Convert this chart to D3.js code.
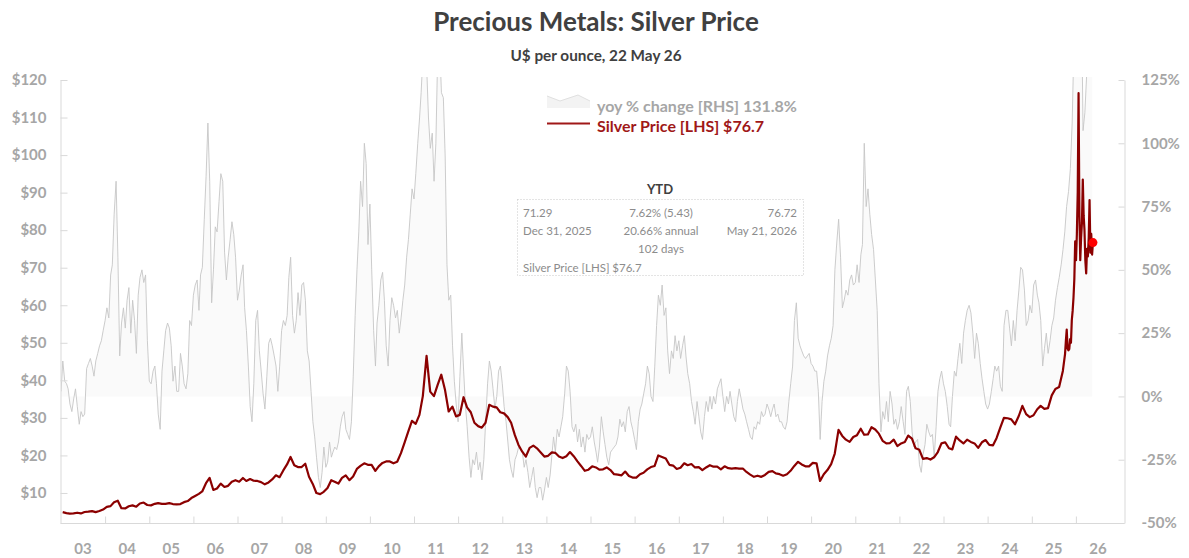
<!DOCTYPE html>
<html><head><meta charset="utf-8">
<script src="https://cdn.jsdelivr.net/npm/d3@7"></script>
<style>
html,body{margin:0;padding:0;background:#fff;}
svg{display:block;font-family:Lato,"Open Sans",sans-serif;}
</style></head><body>
<svg id="chart" width="1189" height="558"></svg>
<script>
// ---------- DATA ----------
const years = d3.range(2003, 2027);
const yearLabels = years.map(y => String(y % 100).padStart(2, "0"));
const leftTicks = [10, 20, 30, 40, 50, 60, 70, 80, 90, 100, 110, 120];
const rightTicks = [-50, -25, 0, 25, 50, 75, 100, 125];

// Silver price, monthly, Jan 2003 - Sep 2025 (US$/oz)
const priceMonthly = [
  4.88,4.62,4.48,4.55,4.74,4.55,4.93,5.02,5.16,4.90,5.18,5.57,
  6.30,6.50,7.55,7.95,5.95,5.87,6.45,6.70,6.35,7.20,7.45,6.80,
  6.70,7.10,7.30,7.10,7.10,7.30,7.05,6.95,7.05,7.55,7.85,8.65,
  9.20,9.75,10.40,12.60,14.00,10.80,11.20,12.50,11.60,11.90,13.00,13.40,
  13.00,14.00,13.20,13.70,13.25,13.20,12.90,12.30,12.80,13.60,14.70,14.20,
  16.00,17.60,19.60,17.40,16.90,16.90,17.80,14.30,12.40,10.00,9.70,10.30,
  11.30,13.40,13.00,12.50,14.00,14.70,13.40,14.40,16.40,17.20,17.90,17.50,
  17.50,15.90,17.10,18.00,18.40,18.40,17.90,18.30,20.60,23.40,26.40,29.20,
  28.40,30.80,35.80,46.50,37.00,35.80,38.70,41.50,37.40,31.70,33.00,30.40,
  30.80,35.50,32.80,31.50,28.70,27.80,27.40,28.70,33.50,33.00,32.80,31.50,
  31.20,30.20,28.70,25.40,22.80,21.00,19.70,22.00,22.60,21.90,20.80,19.70,
  19.90,20.80,20.70,19.70,19.30,19.80,20.90,19.80,18.40,17.20,15.90,16.20,
  17.10,16.80,16.20,16.30,16.80,16.10,15.00,14.90,14.70,15.70,14.50,14.10,
  14.10,15.00,15.40,16.30,16.90,17.20,20.00,19.60,19.20,17.50,17.30,16.40,
  16.70,17.90,17.40,17.70,16.80,16.90,16.10,16.80,17.40,17.00,17.00,16.30,
  17.10,16.60,16.50,16.60,16.50,16.50,15.60,14.90,14.30,14.60,14.30,14.80,
  15.60,15.80,15.20,15.00,14.60,15.00,15.90,17.20,18.30,17.60,17.10,17.10,
  18.00,17.90,13.20,15.00,16.10,17.70,20.50,26.80,25.20,24.20,23.60,24.90,
  25.40,27.10,25.50,25.60,27.50,26.90,25.80,23.90,23.20,23.30,24.20,22.50,
  23.20,23.60,25.30,24.50,21.90,21.50,19.10,19.30,18.90,19.50,20.90,23.20,
  23.50,21.90,21.60,25.00,24.00,23.20,24.20,23.60,23.20,22.00,23.50,24.10,
  22.80,22.70,24.60,27.40,30.00,29.90,29.60,28.30,30.50,33.20,31.00,30.20,
  30.70,32.30,33.20,32.40,32.60,36.00,37.70,38.20,42.50
];
// Silver price, weekly, from 3 Oct 2025 to 22 May 2026
const priceWeeklyStart = "2025-10-03";
const priceWeekly = [
  47.0,50.5,53.5,48.5,48.0,48.3,51.0,50.0,56.0,58.5,62.0,67.0,77.0,
  72.0,79.0,90.0,116.5,84.0,72.0,78.0,82.0,93.5,84.0,80.0,72.0,68.5,
  75.0,73.0,78.0,88.0,74.0,79.0,73.5,76.7
];
// yoy % change, twice a month (1st & 16th), Jan 2003 - May 2026
const yoySemiMonthly = [
  2,14,6,5,3,-3,-6,-1,3,-4,-11,-6,-8,-7,11,13,15,12,8,14,17,20,22,26,
  30,35,31,48,52,72,85,55,16,29,35,27,38,43,25,38,30,17,40,47,50,45,48,22,
  6,5,10,12,5,-7,-13,10,18,26,29,27,20,6,12,2,2,17,12,5,3,9,30,28,
  40,44,46,34,48,51,70,87,108,85,37,50,67,65,77,88,85,57,46,55,62,69,64,55,
  38,42,48,52,35,26,12,-4,-10,5,30,34,18,10,1,-5,8,21,23,20,16,12,2,12,
  26,30,28,32,47,55,32,25,30,41,32,44,45,38,18,14,2,-10,-16,-24,-32,-36,-30,-20,
  -28,-26,-18,-24,-22,-20,-21,-18,-12,-8,-6,-13,-15,-17,-10,8,32,50,65,85,75,100,92,60,
  76,50,26,12,29,36,46,49,38,20,12,30,39,36,31,34,25,31,38,44,55,62,72,82,
  78,88,100,110,120,135,140,130,110,98,104,85,100,135,140,120,118,95,52,38,40,20,6,-3,
  -10,8,25,10,-3,-12,-24,-32,-25,-27,-22,-29,-26,-33,-25,-10,5,14,10,3,-5,0,10,12,
  5,-4,-10,-18,-25,-29,-32,-25,-23,-20,-21,-22,-28,-25,-30,-36,-32,-28,-36,-40,-36,-36,-41,-37,
  -32,-36,-31,-23,-16,-22,-13,-16,-12,-8,1,12,10,2,-12,-14,-11,-18,-13,-20,-16,-22,-15,-17,
  -16,-12,-18,-22,-26,-20,-8,-14,-19,-24,-27,-22,-21,-20,-19,-16,-9,-12,-10,-14,-6,-4,-10,-13,
  -17,-21,-10,-5,-3,1,5,12,9,0,-2,12,28,40,36,44,32,35,18,9,18,15,24,18,
  22,15,20,24,16,9,5,-2,-6,-11,-2,-8,-14,-17,-8,-2,-6,0,-5,0,-3,3,5,7,
  0,-6,0,-3,2,-3,-8,-10,-2,3,-1,-5,-7,-10,-13,-16,-17,-12,-13,-10,-11,-6,-8,-7,
  -3,-5,-8,-5,-3,-8,-7,-10,-10,-12,-13,-10,-2,5,12,30,37,23,20,18,16,15,16,17,
  13,12,10,10,2,-17,-2,6,10,16,20,23,28,50,61,70,55,35,38,42,40,46,48,44,
  45,52,45,56,60,100,75,82,72,64,58,46,34,5,-14,-6,-9,-2,-10,2,-3,-11,-9,-13,
  -10,-4,-10,-15,2,4,-2,-14,-20,-18,-17,-27,-30,-23,-19,-11,-14,-16,-15,-24,-12,2,7,10,
  5,2,-4,-11,-12,0,10,8,15,21,13,25,30,34,36,33,25,15,25,21,13,7,2,-3,
  -5,-3,2,7,12,10,12,4,2,28,34,34,27,20,30,22,34,42,51,50,42,28,30,36,
  33,44,46,40,37,30,12,19,25,17,22,28,31,38,43,47,52,58,65,75,81,90,108,140,
  170,220,200,160,105,112,128,140,145,131.8
];

const legendItems = ["yoy % change [RHS] 131.8%", "Silver Price [LHS] $76.7"];
const ytdTitle = "YTD";
const ytdRow1 = ["71.29", "7.62% (5.43)", "76.72"];
const ytdRow2 = ["Dec 31, 2025", "20.66% annual", "May 21, 2026"];
const ytdRow3 = "102 days";
const ytdRow4 = "Silver Price [LHS] $76.7";

// ---------- BUILD ----------
const priceData = priceMonthly.map((v, j) => ({ date: new Date(2003, j, 15), v }))
  .concat(priceWeekly.map((v, i) => ({ date: d3.timeDay.offset(new Date(priceWeeklyStart + "T00:00:00"), 7 * i), v })));
const yoyData = yoySemiMonthly.map((v, i) => ({ date: new Date(2003, Math.floor(i / 2), i % 2 ? 16 : 1), v }));

const svg = d3.select("#chart");
const plot = { left: 61, right: 1124, top: 80, bottom: 523 };

const x = d3.scaleTime().domain([new Date(2003, 0, 1), new Date(2027, 0, 1)]).range([61, 1120]);
const yL = d3.scaleLinear().domain([2, 120]).range([plot.bottom, plot.top]);
const yR = d3.scaleLinear().domain([-50, 125]).range([plot.bottom, plot.top]);

const axisColor = "#d9d9d9";
const labelColor = "#a6a6a6";

svg.append("defs").append("clipPath").attr("id", "clip")
  .append("rect").attr("x", plot.left).attr("y", plot.top - 3)
  .attr("width", plot.right - plot.left).attr("height", plot.bottom - plot.top + 3);

// Title
svg.append("text").attr("x", 596).attr("y", 31).attr("text-anchor", "middle")
  .attr("font-size", 26).attr("font-weight", 700).attr("fill", "#404040")
  .text("Precious Metals: Silver Price");
svg.append("text").attr("x", 596).attr("y", 61).attr("text-anchor", "middle")
  .attr("font-size", 15.3).attr("font-weight", 700).attr("fill", "#404040")
  .text("U$ per ounce, 22 May 26");

// yoy area + line
const g = svg.append("g").attr("clip-path", "url(#clip)");
g.append("path").datum(yoyData)
  .attr("d", d3.area().x(d => x(d.date)).y0(yR(0)).y1(d => yR(d.v)))
  .attr("fill", "#fafafa");
g.append("path").datum(yoyData)
  .attr("d", d3.line().x(d => x(d.date)).y(d => yR(d.v)))
  .attr("fill", "none").attr("stroke", "#c6c6c6").attr("stroke-width", 0.9);

// price line
g.append("path").datum(priceData)
  .attr("d", d3.line().x(d => x(d.date)).y(d => yL(d.v)))
  .attr("fill", "none").attr("stroke", "#8b0000").attr("stroke-width", 2.2)
  .attr("stroke-linejoin", "round");

// Axes
const axL = svg.append("g").attr("transform", `translate(60.5,0)`)
  .call(d3.axisLeft(yL).tickValues(leftTicks).tickFormat(d => "$" + d)
    .tickSizeInner(-7).tickSizeOuter(0).tickPadding(14));
const axR = svg.append("g").attr("transform", `translate(${plot.right + 0.5},0)`)
  .call(d3.axisRight(yR).tickValues(rightTicks).tickFormat(d => d + "%")
    .tickSizeInner(-6).tickSizeOuter(0).tickPadding(17));
const axB = svg.append("g").attr("transform", `translate(0,${plot.bottom + 0.5})`)
  .call(d3.axisBottom(x).tickValues(years.slice(1).map(y => new Date(y, 0, 1))).tickFormat("")
    .tickSizeInner(-7).tickSizeOuter(0));
axB.select(".domain").attr("d", `M60.5,0H${plot.right + 0.5}`);
[axL, axR, axB].forEach(a => {
  a.select(".domain").attr("stroke", axisColor);
  a.selectAll(".tick line").attr("stroke", axisColor);
  a.selectAll("text").attr("fill", labelColor).attr("font-size", 15).attr("font-weight", 700)
    .attr("font-family", "Lato, 'Open Sans', sans-serif");
});
svg.append("g").selectAll("text").data(years).join("text")
  .attr("x", d => x(new Date(d, 6, 2))).attr("y", 554)
  .attr("text-anchor", "middle").attr("font-size", 15).attr("font-weight", 700)
  .attr("fill", labelColor).text((d, i) => yearLabels[i]);

// end dot
const last = priceData[priceData.length - 1];
svg.append("circle").attr("cx", x(last.date)).attr("cy", yL(last.v)).attr("r", 4.5).attr("fill", "#ff0000");

// Legend
svg.append("path")
  .attr("d", "M547,108 L547,96 L560,101 L578,95 L590,101 L590,108 Z")
  .attr("fill", "#f3f3f3");
svg.append("path").attr("d", "M547,96 L560,101 L578,95 L590,101")
  .attr("fill", "none").attr("stroke", "#e0e0e0").attr("stroke-width", 1);
svg.append("line").attr("x1", 547).attr("x2", 590).attr("y1", 123.5).attr("y2", 123.5)
  .attr("stroke", "#a01818").attr("stroke-width", 2);
svg.append("text").attr("x", 597).attr("y", 112).attr("font-size", 16).attr("font-weight", 700)
  .attr("fill", "#a6a6a6").text(legendItems[0]);
svg.append("text").attr("x", 597).attr("y", 132).attr("font-size", 16).attr("font-weight", 700)
  .attr("fill", "#a01818").text(legendItems[1]);

// YTD box
svg.append("text").attr("x", 660).attr("y", 194).attr("text-anchor", "middle")
  .attr("font-size", 13).attr("font-weight", 700).attr("fill", "#404040").text(ytdTitle);
svg.append("rect").attr("x", 517.5).attr("y", 199.5).attr("width", 286).attr("height", 76)
  .attr("fill", "none").attr("stroke", "#c8c8c8").attr("stroke-dasharray", "1,2");
const ytdG = svg.append("g").attr("font-size", 11.5).attr("fill", "#8c8c8c");
const colX = [523, 661, 797], anchors = ["start", "middle", "end"];
ytdRow1.forEach((t, i) => ytdG.append("text").attr("x", colX[i]).attr("y", 217).attr("text-anchor", anchors[i]).text(t));
ytdRow2.forEach((t, i) => ytdG.append("text").attr("x", colX[i]).attr("y", 235).attr("text-anchor", anchors[i]).text(t));
ytdG.append("text").attr("x", 661).attr("y", 253).attr("text-anchor", "middle").text(ytdRow3);
ytdG.append("text").attr("x", 523).attr("y", 272).text(ytdRow4);
</script>
</body></html>
